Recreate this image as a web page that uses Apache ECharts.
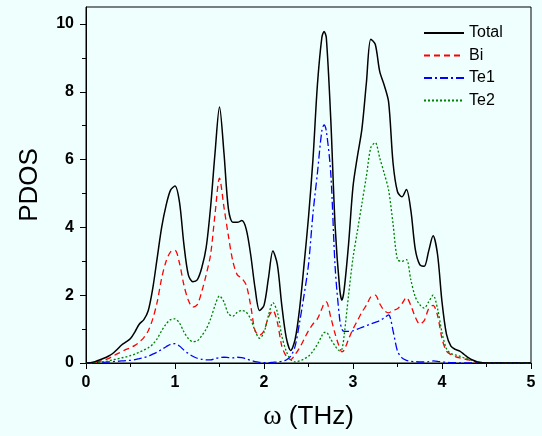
<!DOCTYPE html>
<html><head><meta charset="utf-8">
<script src="https://cdn.jsdelivr.net/npm/echarts@6/dist/echarts.min.js"></script>
<style>html,body{margin:0;padding:0;background:#effffe}#c{width:542px;height:436px}</style>
</head><body><div id="c"></div>
<script>
const omega = [0,0.05,0.1,0.15,0.2,0.25,0.3,0.35,0.4,0.45,
0.5,0.55,0.6,0.65,0.7,0.75,0.8,0.85,0.9,0.95,
1.0,1.05,1.1,1.15,1.2,1.25,1.3,1.35,1.4,1.45,
1.5,1.55,1.6,1.65,1.7,1.75,1.8,1.85,1.9,1.95,
2.0,2.05,2.1,2.15,2.2,2.25,2.3,2.35,2.4,2.45,
2.5,2.55,2.6,2.65,2.675,2.7,2.75,2.8,2.85,2.875,
2.9,2.95,3.0,3.05,3.1,3.15,3.2,3.25,3.3,3.35,
3.4,3.45,3.5,3.55,3.6,3.65,3.7,3.75,3.8,3.85,
3.9,3.95,4.0,4.05,4.1,4.15,4.2,4.25,4.3,4.35,
4.4,4.45,4.5,5.0];

const total = [0,0.01,0.04,0.09,0.14,0.2,0.28,0.4,0.53,0.62,
0.72,0.92,1.15,1.28,1.55,2.2,3.1,4.0,4.65,5.1,
5.22,4.75,3.5,2.6,2.4,2.45,2.8,3.4,4.6,6.2,
7.55,6.2,4.55,4.15,4.15,4.2,3.95,3.2,2.2,1.55,
1.7,2.5,3.3,2.9,1.7,0.75,0.37,0.7,1.6,2.9,
4.3,6.0,8.2,9.6,9.78,9.6,7.2,4.0,2.2,1.85,
2.15,3.5,5.2,6.1,6.9,8.25,9.55,9.4,8.6,8.2,
7.7,5.9,5.05,4.9,5.12,4.5,3.35,2.9,2.85,3.3,
3.75,3.2,1.8,0.85,0.5,0.4,0.35,0.25,0.15,0.08,
0.03,0.01,0,0];

const bi = [0,0.005,0.02,0.05,0.08,0.13,0.2,0.27,0.33,0.4,
0.45,0.52,0.62,0.75,0.95,1.3,1.8,2.5,3.0,3.28,
3.32,2.95,2.3,1.85,1.65,1.72,2.1,2.6,3.2,4.4,
5.45,4.6,3.75,3.0,2.6,2.5,2.3,1.7,0.95,0.82,
0.95,1.35,1.55,1.2,0.5,0.2,0.1,0.25,0.45,0.7,
0.95,1.15,1.3,1.6,1.75,1.8,1.35,0.85,0.45,0.33,
0.38,0.7,1.0,1.25,1.5,1.7,1.95,2.0,1.75,1.55,
1.48,1.55,1.6,1.75,1.93,1.7,1.35,1.15,1.25,1.6,
1.7,1.4,0.72,0.35,0.25,0.19,0.15,0.12,0.09,0.05,
0.02,0.01,0,0];

const te1 = [0,0,0.005,0.01,0.02,0.03,0.04,0.05,0.06,0.07,
0.08,0.1,0.13,0.16,0.2,0.26,0.32,0.4,0.48,0.55,
0.57,0.5,0.38,0.28,0.2,0.14,0.11,0.09,0.09,0.13,
0.16,0.17,0.16,0.15,0.17,0.16,0.12,0.08,0.04,0.02,
0.01,0.01,0.02,0.03,0.05,0.09,0.2,0.5,1.2,2.0,
2.9,4.4,5.6,6.85,7.02,6.85,5.6,2.8,1.3,1.0,
0.93,0.93,0.95,1.0,1.05,1.1,1.15,1.2,1.25,1.33,
1.42,0.95,0.35,0.15,0.08,0.05,0.04,0.03,0.03,0.04,
0.06,0.05,0.03,0.02,0.01,0.01,0.005,0,0,0,
0,0,0,0];

const te2 = [0,0,0.01,0.02,0.04,0.06,0.09,0.12,0.15,0.18,
0.22,0.26,0.32,0.38,0.45,0.55,0.72,0.95,1.15,1.28,
1.3,1.18,0.92,0.72,0.63,0.65,0.8,1.0,1.3,1.7,
1.98,1.8,1.45,1.38,1.5,1.55,1.5,1.3,0.95,0.73,
0.9,1.4,1.78,1.5,0.8,0.35,0.1,0.03,0.06,0.12,
0.2,0.35,0.55,0.8,0.9,0.9,0.7,0.5,0.36,0.4,
0.8,2.0,3.1,3.9,4.7,5.5,6.35,6.5,6.05,5.6,
5.1,4.1,3.05,3.0,3.05,2.45,1.95,1.72,1.62,1.8,
2.0,1.6,0.9,0.42,0.28,0.24,0.2,0.15,0.11,0.07,
0.03,0.01,0,0];

const seriesNames = ['Total','Bi','Te1','Te2'];
const yMajor = [0,2,4,6,8,10];
const yMinor = [1,3,5,7,9];

const pair = arr => omega.map((w,i)=>[w, arr[i]]);
const sans = 'Liberation Sans, Arial, sans-serif';

const chart = echarts.init(document.getElementById('c'), null, {renderer:'canvas'});
chart.setOption({
  backgroundColor:'#effffe',
  animation:false,
  grid:{left:86, right:11, top:7, bottom:68, show:true, borderColor:'#000', borderWidth:1, backgroundColor:'transparent'},
  legend:{
    orient:'vertical', left:418, top:20, itemWidth:40, itemHeight:12, itemGap:6.5,
    data:seriesNames,
    itemStyle:{opacity:0},
    textStyle:{fontFamily:sans, fontSize:16, color:'#000'}
  },
  xAxis:{
    type:'value', min:0, max:5, interval:1,
    name:'{w|ω}{t| (THz)}', nameLocation:'middle', nameGap:40,
    nameTextStyle:{rich:{w:{fontFamily:'Liberation Serif, Times New Roman, serif', fontSize:28, color:'#000'}, t:{fontFamily:sans, fontSize:26, color:'#000'}}},
    axisLine:{onZero:false, lineStyle:{color:'#000', width:1}},
    axisTick:{inside:false, length:6, lineStyle:{color:'#000'}},
    minorTick:{show:true, splitNumber:2, length:4, lineStyle:{color:'#000'}},
    splitLine:{show:false},
    axisLabel:{fontFamily:sans, fontWeight:'bold', fontSize:16, color:'#000', margin:12}
  },
  yAxis:[{
    type:'value', min:0, max:10.5,
    name:'PDOS', nameLocation:'middle', nameGap:43,
    nameTextStyle:{fontFamily:sans, fontSize:26, color:'#000'},
    axisLine:{onZero:false, lineStyle:{color:'#000', width:1}},
    axisTick:{inside:false, length:6, customValues:yMajor, lineStyle:{color:'#000'}},
    splitLine:{show:false},
    axisLabel:{customValues:yMajor, fontFamily:sans, fontWeight:'bold', fontSize:16, color:'#000', margin:12}
  },{
    type:'value', min:0, max:10.5, position:'left',
    axisLine:{show:false},
    axisTick:{show:true, inside:false, length:4, customValues:yMinor, lineStyle:{color:'#000'}},
    axisLabel:{show:false}, splitLine:{show:false}
  }],
  series:[
    {name:'Total', type:'line', data:pair(total), smooth:0.3, symbol:'none', lineStyle:{color:'#000', width:1.5, type:'solid'}, itemStyle:{color:'#000'}, z:5},
    {name:'Bi', type:'line', data:pair(bi), smooth:0.3, symbol:'none', lineStyle:{color:'#ff0000', width:1.3, type:[6,4]}, itemStyle:{color:'#ff0000'}},
    {name:'Te1', type:'line', data:pair(te1), smooth:0.3, symbol:'none', lineStyle:{color:'#0000ff', width:1.3, type:[8,3,2,3]}, itemStyle:{color:'#0000ff'}},
    {name:'Te2', type:'line', data:pair(te2), smooth:0.3, symbol:'none', lineStyle:{color:'#008000', width:1.3, type:[2,2]}, itemStyle:{color:'#008000'}}
  ]
});
</script></body></html>
